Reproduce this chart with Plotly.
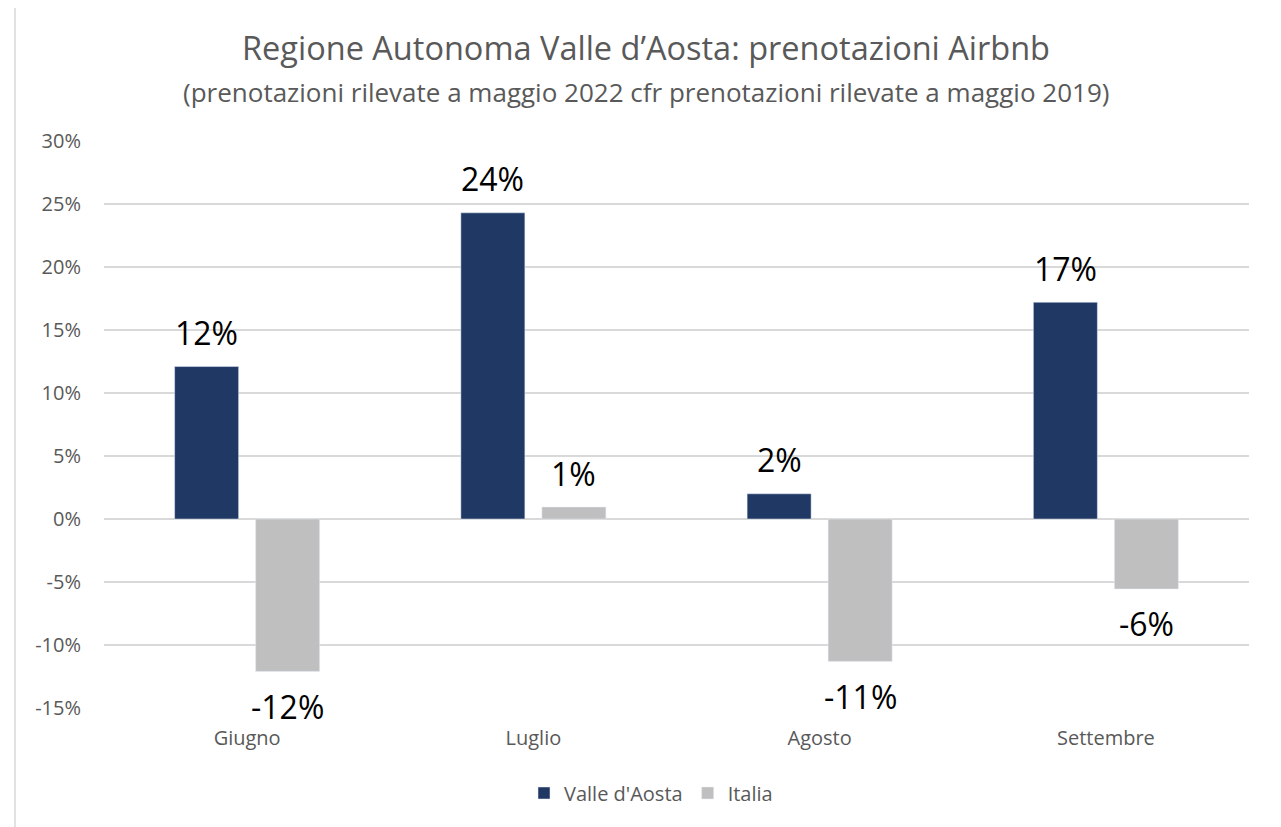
import plotly.graph_objects as go

# ---- data ----
months = ["Giugno", "Luglio", "Agosto", "Settembre"]
vda = [12.1, 24.3, 2.0, 17.2]
italia = [-12.1, 0.95, -11.3, -5.55]
series_names = ["Valle d'Aosta", "Italia"]
y_ticks = [-15, -10, -5, 0, 5, 10, 15, 20, 25, 30]
y_ticktext = [f"{t}%" for t in y_ticks]

title_text = "Regione Autonoma Valle d’Aosta: prenotazioni Airbnb"
subtitle_text = "(prenotazioni rilevate a maggio 2022 cfr prenotazioni rilevate a maggio 2019)"

# ---- style ----
W, H = 1281, 827
PAGE_OFF = 8  # default page body margin
ML, MT = 96, 133
PW, PH = 1145, 567
MR, MB = W - ML - PW, H - MT - PH
FONT = "Open Sans"
GRAY_TXT = "#595959"
GRID = "#D9D9D9"
C_VDA = "#203864"
C_ITA = "#BFBFBF"


def px_x(px):
    return (px - PAGE_OFF - ML) / PW


def px_y(py):
    return (MT + PH - (py - PAGE_OFF)) / PH


fig = go.Figure()
fig.add_trace(go.Bar(x=months, y=vda, name=series_names[0], marker_color=C_VDA))
fig.add_trace(go.Bar(x=months, y=italia, name=series_names[1], marker_color=C_ITA))

# data labels
annotations = []
cat_w = PW / len(months)
bargap, bargroupgap = 0.434, 0.21
off = cat_w * (1 - bargap) / 4
for vals, sgn in ((vda, -1), (italia, 1)):
    for m, v in zip(months, vals):
        annotations.append(dict(
            x=m, y=v, xref="x", yref="y", text=f"{v:.0f}%", showarrow=False,
            xshift=sgn * off, yshift=34 if v >= 0 else -35, yanchor="middle",
            font=dict(family=FONT, size=32, color="#000000"),
        ))

annotations.append(dict(
    x=px_x(646), y=px_y(92), xref="paper", yref="paper", text=subtitle_text,
    showarrow=False, xanchor="center", yanchor="middle",
    font=dict(family=FONT, size=26, color=GRAY_TXT),
))

fig.update_layout(
    width=W, height=H,
    margin=dict(l=ML, r=MR, t=MT, b=MB, autoexpand=False),
    paper_bgcolor="white", plot_bgcolor="white",
    barmode="group", bargap=bargap, bargroupgap=bargroupgap,
    title=dict(text=title_text, x=(646 - PAGE_OFF) / W, xref="container",
               xanchor="center", y=1 - (49 - PAGE_OFF) / H, yref="container",
               yanchor="middle",
               font=dict(family=FONT, size=32.5, color=GRAY_TXT)),
    font=dict(family=FONT, color=GRAY_TXT),
    showlegend=True,
    legend=dict(orientation="h", x=px_x(651), y=px_y(793), xanchor="center",
                yanchor="middle", font=dict(family=FONT, size=20, color=GRAY_TXT),
                itemwidth=30, bgcolor="rgba(0,0,0,0)"),
    annotations=annotations,
    shapes=[dict(type="rect", xref="paper", yref="paper",
                 x0=px_x(15), x1=px_x(1278), y0=px_y(860), y1=px_y(5),
                 line=dict(color=GRID, width=1.5), fillcolor="rgba(0,0,0,0)",
                 layer="below")],
)

fig.update_yaxes(range=[-15, 30], tickmode="array", tickvals=y_ticks,
                 ticktext=y_ticktext,
                 showgrid=True, gridcolor=GRID, gridwidth=1.5,
                 zeroline=True, zerolinecolor=GRID, zerolinewidth=1.5,
                 showline=False, ticks="", ticklabelstandoff=22,
                 tickfont=dict(family=FONT, size=20, color=GRAY_TXT))
fig.update_xaxes(showgrid=False, showline=False, ticks="", ticklabelstandoff=16,
                 tickfont=dict(family=FONT, size=20, color=GRAY_TXT))

fig.write_html("out.html")
